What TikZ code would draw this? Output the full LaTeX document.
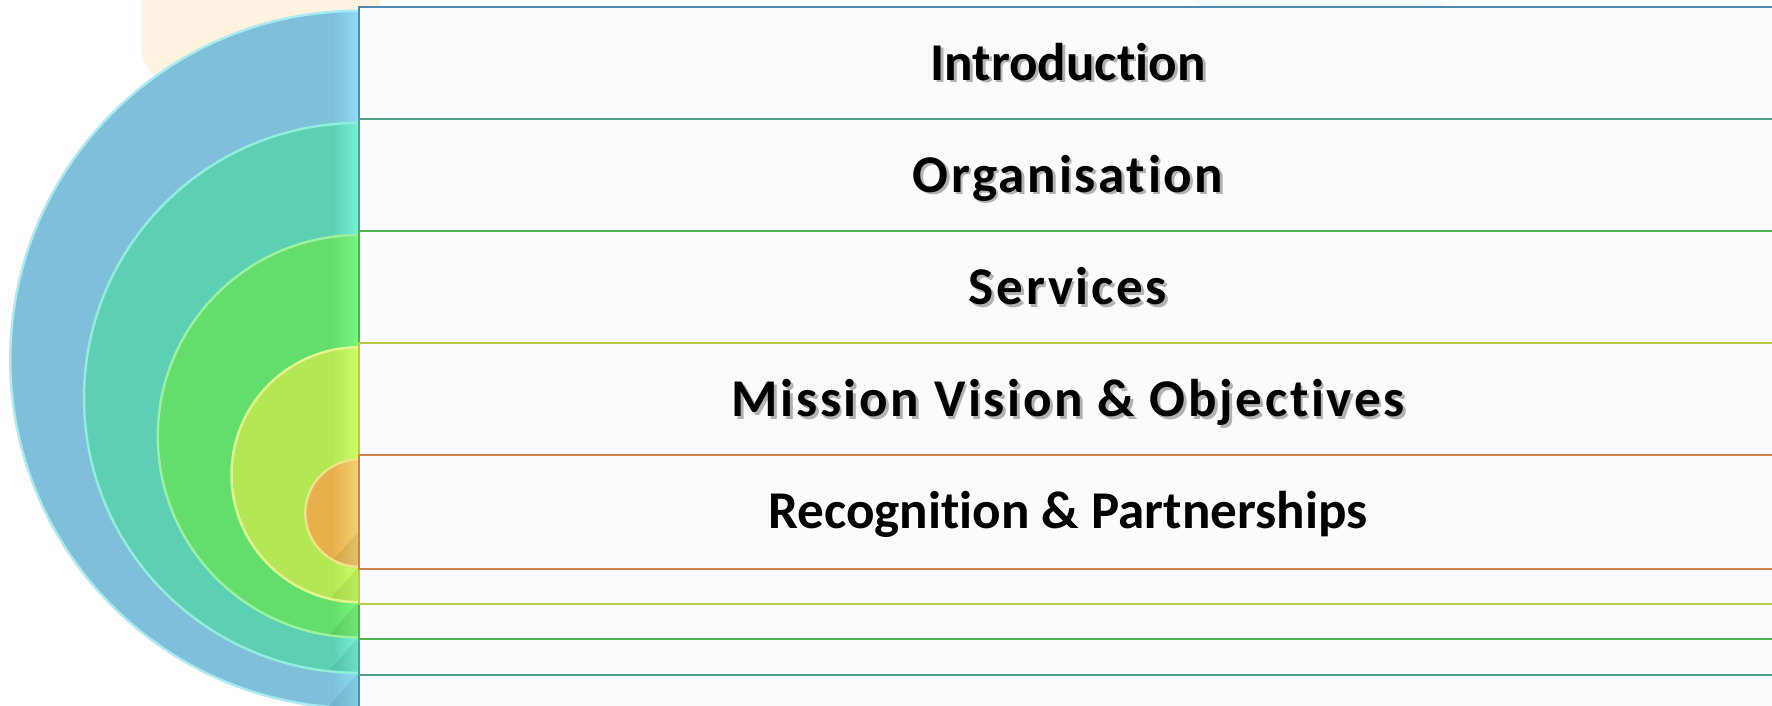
\documentclass[tikz,border=0pt]{standalone}
\usepackage{fontspec}
\setmainfont[Ligatures=NoCommon]{Carlito}
\newfontfamily\spacedfont[LetterSpace=5,Ligatures=NoCommon]{Carlito}
\usetikzlibrary{calc}

\definecolor{paper}{HTML}{FAFBFD}
\definecolor{blueA}{HTML}{7FBFD9}\definecolor{blueB}{HTML}{8EDDF7}\definecolor{blueC}{HTML}{A6ECF7}\definecolor{blueD}{HTML}{4F8BB0}
\definecolor{tealA}{HTML}{5DCFB2}\definecolor{tealB}{HTML}{74F2D8}\definecolor{tealC}{HTML}{8EF0D8}\definecolor{tealD}{HTML}{4FA08A}
\definecolor{grnA}{HTML}{63DD6B}\definecolor{grnB}{HTML}{7AF77F}\definecolor{grnC}{HTML}{9CF29A}\definecolor{grnD}{HTML}{4DB34F}
\definecolor{limeA}{HTML}{B3E854}\definecolor{limeB}{HTML}{CCFF66}\definecolor{limeC}{HTML}{E6F58A}\definecolor{limeD}{HTML}{B9CC3C}
\definecolor{orgA}{HTML}{E8B04A}\definecolor{orgB}{HTML}{F2D272}\definecolor{orgC}{HTML}{F3E08A}\definecolor{orgD}{HTML}{D08048}
\definecolor{haze}{HTML}{FFF3DF}

\newcommand\shadowed[1]{\makebox[0pt][l]{\hspace{0.8pt}\raisebox{-0.8pt}{\textcolor{black!30}{#1}}}#1}

\begin{document}
\begin{tikzpicture}[x=0.01cm,y=0.01cm,
    band/.style={fill=paper, line width=0.6pt},
    title/.style={anchor=base, text=black,
      font=\fontsize{15.1pt}{18pt}\selectfont\bfseries}
  ]
  \useasboundingbox (0,0) rectangle (1772,705);
  \clip (0,0) rectangle (1772,705);
  \fill[white] (0,0) rectangle (1772,705);
  % faint backdrop
  \fill[haze] (141,705) -- (141,660) to[out=-90,in=160] (260,600) -- (380,600) -- (380,705) -- cycle;
  \fill[cyan!5] (1190,705) -- (1260,660) -- (1480,660) -- (1440,705) -- cycle;

  \foreach \i/\base/\light/\rim/\edge/\name/\txt in {
      0/blueA/blueB/blueC/blueD/intro/{\shadowed{Introduction}},
      1/tealA/tealB/tealC/tealD/org/{\spacedfont\shadowed{Organisation}},
      2/grnA/grnB/grnC/grnD/serv/{\spacedfont\shadowed{Services}},
      3/limeA/limeB/limeC/limeD/mission/{\spacedfont\shadowed{Mission Vision \& Objectives}},
      4/orgA/orgB/orgC/orgD/recog/{Recognition \& Partnerships}}{
    \pgfmathsetmacro\top{698-112.1*\i}
    \pgfmathsetmacro\bot{-5+35.3*\i}
    \pgfmathsetmacro\cy{(\top+\bot-2)/2}
    \pgfmathsetmacro\rr{(\top-\bot-6)/200}
    % half disc
    \begin{scope}
      \clip (0,\bot) rectangle (359,\top);
      \fill[\base] (359,\cy) circle[radius=\rr cm];
      \begin{scope}
        \clip (359,\cy) circle[radius=\rr cm];
        \shade[left color=\base, right color=\light] (332,\bot) rectangle (359,\top);
        \fill[black, opacity=0.07] (359,\cy) ++(0,-\rr cm) -- ++(0,36) -- ++(-32,-36) -- cycle;
      \end{scope}
      \draw[\rim, line width=0.7pt] (359,\cy) circle[radius=\rr cm];
    \end{scope}
    % band
    \draw[band, draw=\edge] (359,\bot) rectangle (1790,\top);
    \node[title] (\name) at (1068,\top-73) {\txt};
  }
\end{tikzpicture}
\end{document}
